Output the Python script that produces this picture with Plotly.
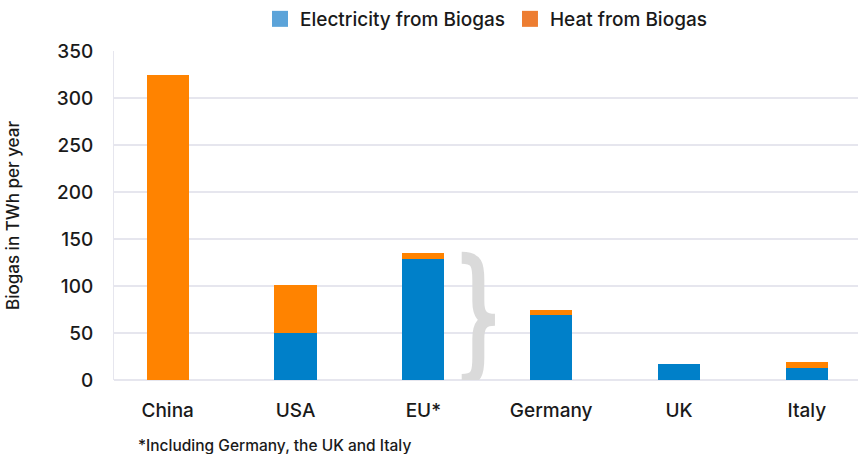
import plotly.graph_objects as go

# ===== data =====
countries = ["China", "USA", "EU*", "Germany", "UK", "Italy"]
electricity = [0, 50, 129, 69, 17, 13]
heat = [325, 51, 6, 6, 0, 6]
y_ticks = [0, 50, 100, 150, 200, 250, 300, 350]

COLORS = {
    'blue': '#0080c9',
    'orange': '#ff8300',
    'legend_blue': '#5ba3d9',
    'legend_orange': '#ed7d31',
    'grid': '#e6e6ee',
    'text': '#1a1a1a',
    'brace': '#dadada',
}
FONT = "Inter, Noto Sans, sans-serif"

fig = go.Figure()

# stacked bars
fig.add_trace(go.Bar(
    x=countries, y=electricity, name="Electricity from Biogas",
    marker=dict(color=COLORS['blue'], line_width=0),
    width=0.33, showlegend=False
))
fig.add_trace(go.Bar(
    x=countries, y=heat, name="Heat from Biogas",
    marker=dict(color=COLORS['orange'], line_width=0),
    width=0.33, showlegend=False
))

# legend entries (lighter squares like the original)
for nm, col in [("Electricity from Biogas", COLORS['legend_blue']),
                ("Heat from Biogas", COLORS['legend_orange'])]:
    fig.add_trace(go.Scatter(
        x=[None], y=[None], mode="markers", name=nm,
        marker=dict(symbol="square", size=16, color=col)
    ))

# brace grouping EU members
fig.add_shape(
    type="path", xref="x", yref="y",
    path=("M 2.30,130 C 2.42,130 2.43,122 2.43,106 L 2.43,84 "
          "C 2.43,70 2.46,64 2.56,64 C 2.46,64 2.43,58 2.43,44 "
          "L 2.43,24 C 2.43,8 2.42,0 2.30,0"),
    line=dict(color=COLORS['brace'], width=12),
    layer="above"
)

fig.add_annotation(
    text="*Including Germany, the UK and Italy",
    xref="paper", yref="paper", x=0.03, y=-0.2,
    xanchor="left", yanchor="middle", showarrow=False,
    font=dict(size=15.5, color=COLORS['text'], family=FONT, weight=500)
)

fig.update_layout(
    barmode="stack",
    width=861, height=454,
    plot_bgcolor="white", paper_bgcolor="white",
    font=dict(family=FONT, color=COLORS['text'], weight=500),
    margin=dict(l=114, r=3, t=51, b=74, autoexpand=False),
    legend=dict(
        orientation="h", x=0.5, xanchor="center",
        yref="container", y=1.0, yanchor="top",
        traceorder="normal",
        font=dict(size=19, color=COLORS['text'], weight=500),
        itemwidth=30, tracegroupgap=0
    ),
)

fig.update_xaxes(
    range=[-0.42, 5.40], showgrid=False, showline=False, automargin=False,
    tickfont=dict(size=19), ticks="", ticklabelstandoff=17
)
fig.update_yaxes(
    range=[0, 350], tickvals=y_ticks, showgrid=True, gridcolor=COLORS['grid'],
    gridwidth=1.5, zeroline=True, zerolinecolor=COLORS['grid'], zerolinewidth=2,
    showline=True, linecolor=COLORS['grid'], linewidth=1, automargin=False,
    tickfont=dict(size=19), ticklabelstandoff=16,
    title=dict(text="Biogas in TWh per year", font=dict(size=17), standoff=32)
)

# drop the page's default 8px body margin so the figure fills the window
fig.write_html("out.html", config={"displayModeBar": False},
               post_script="document.body.style.margin='0';")
